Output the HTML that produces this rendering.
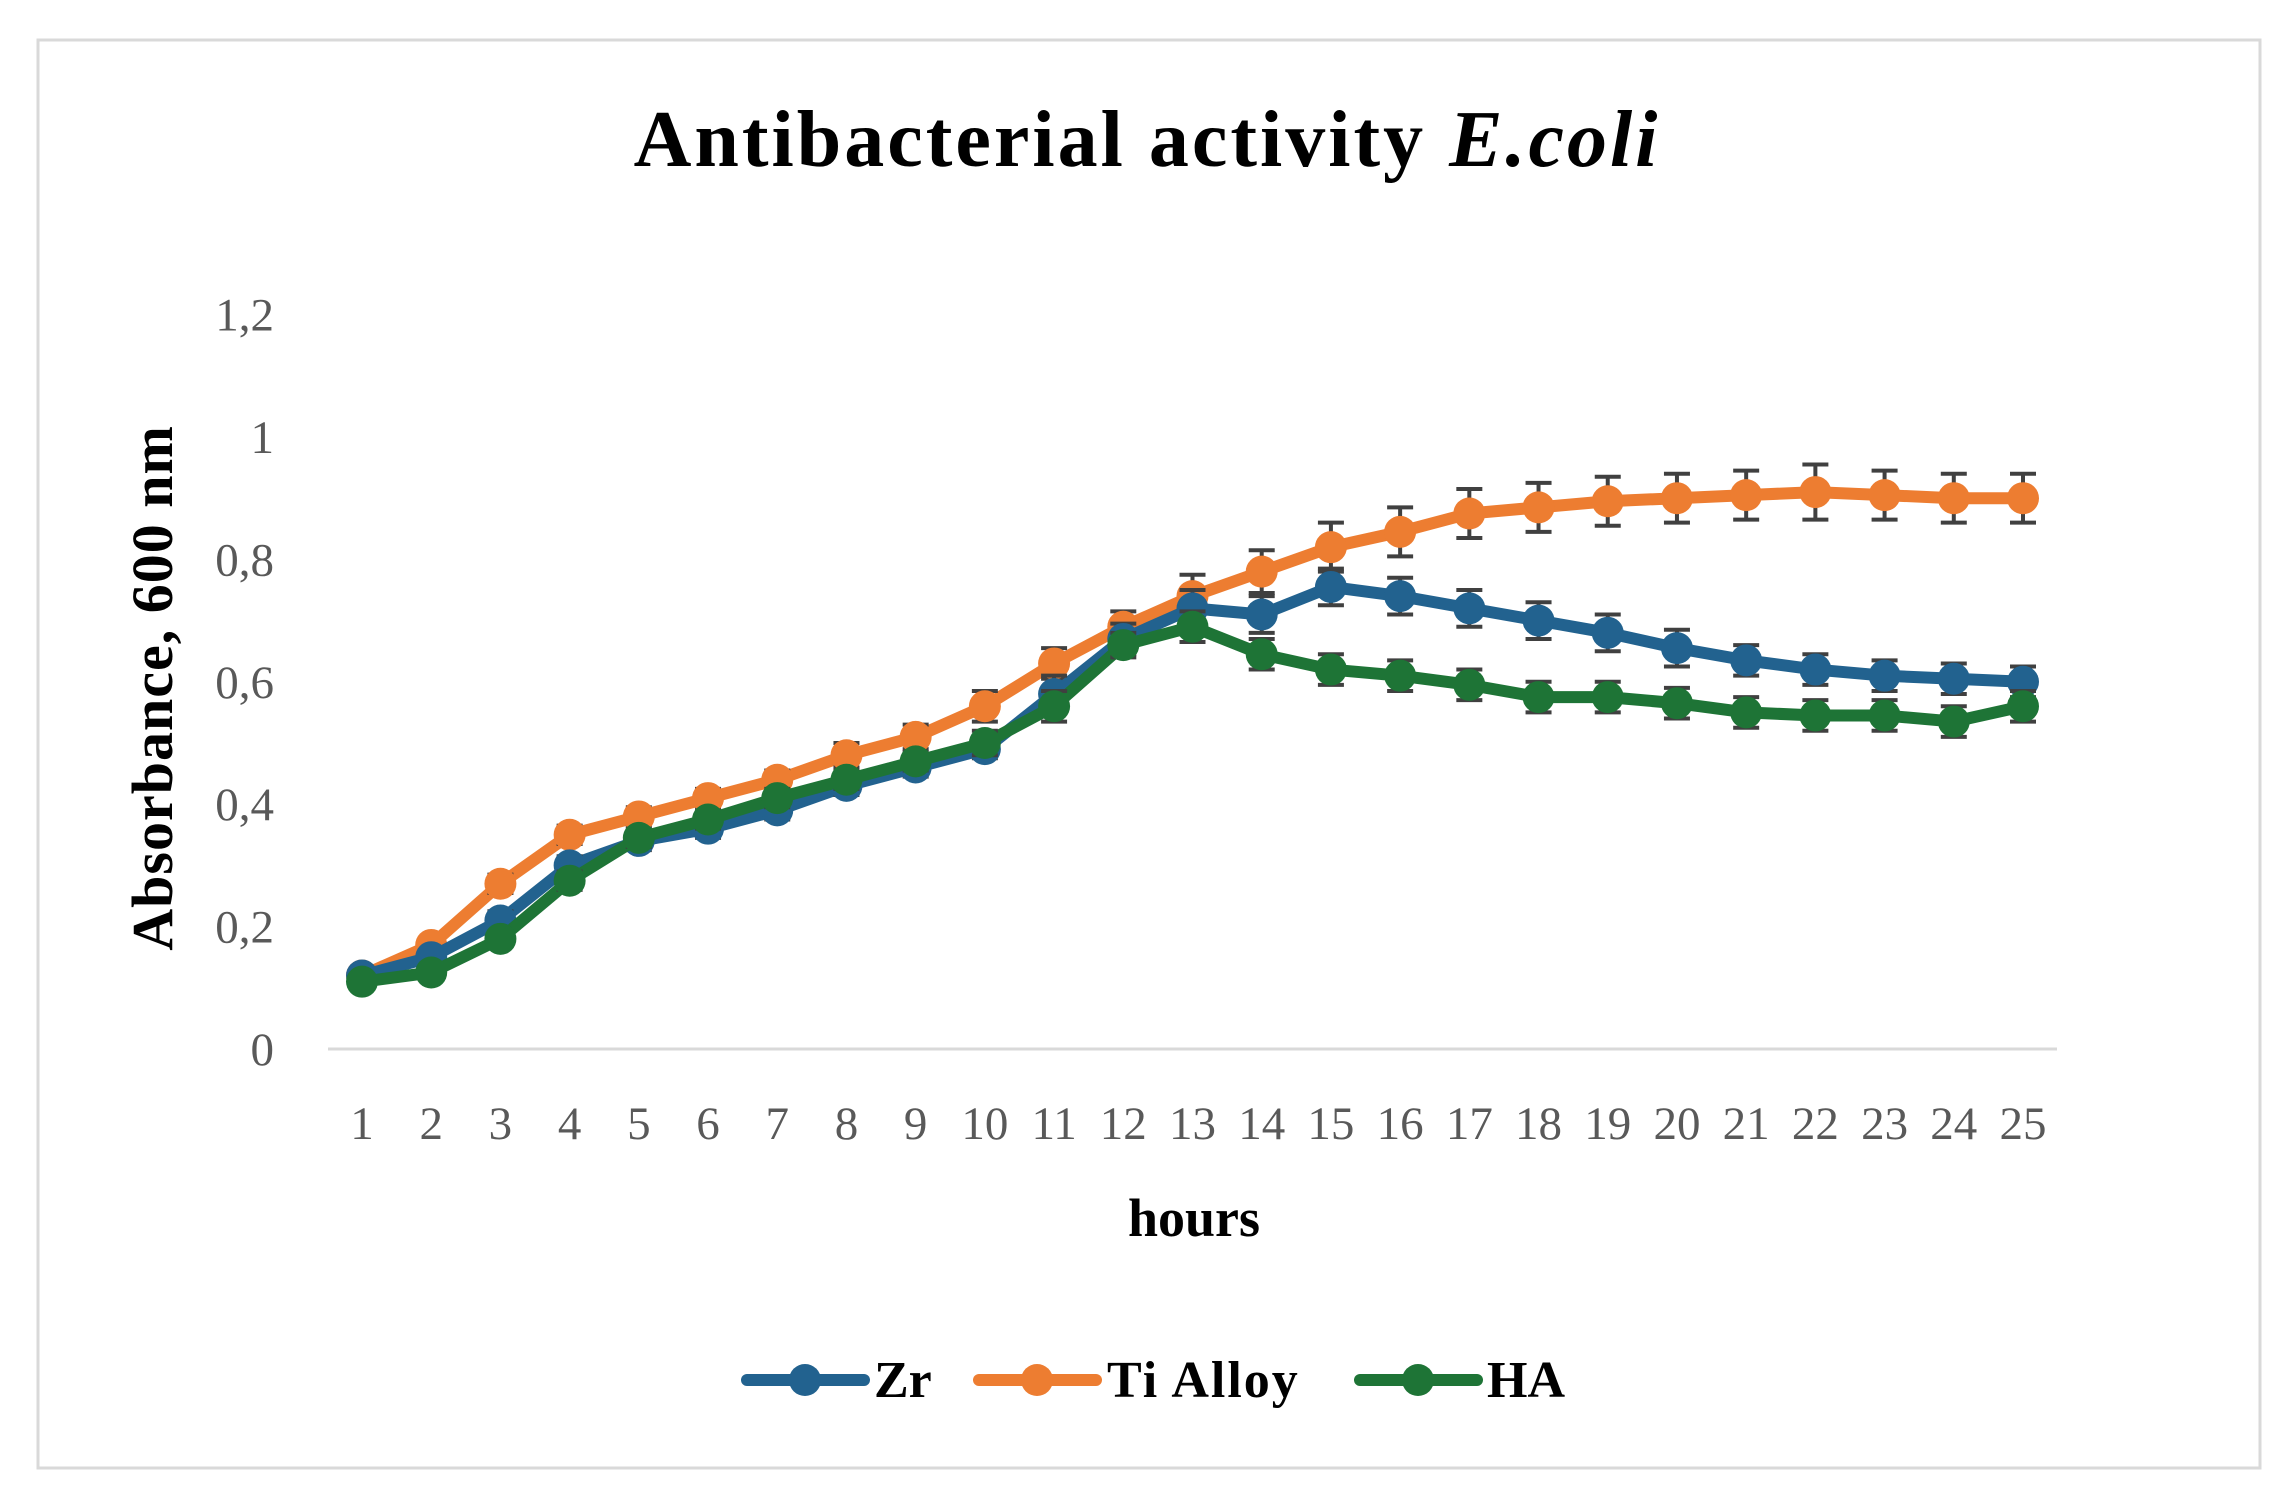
<!DOCTYPE html>
<html><head><meta charset="utf-8">
<style>
html,body{margin:0;padding:0;background:#fff;}
svg{display:block;}
text{font-family:"Liberation Serif",serif;}
</style></head>
<body>
<svg id="chart" width="2290" height="1493" viewBox="0 0 2290 1493">
  <rect x="38" y="40" width="2222" height="1428" fill="#fff" stroke="#d9d9d9" stroke-width="3"/>
  <text x="1147" y="166" text-anchor="middle" font-size="80" font-weight="bold" letter-spacing="3" fill="#000">Antibacterial activity <tspan font-style="italic">E.coli</tspan></text>
  <text transform="translate(172,688) rotate(-90)" text-anchor="middle" font-size="58" font-weight="bold" letter-spacing="1" fill="#000">Absorbance, 600 nm</text>
  <text x="1194" y="1236" text-anchor="middle" font-size="54" font-weight="bold" fill="#000">hours</text>
  <g id="grid"></g>
  <g id="series"></g>
  <g id="legend">
    <g>
      <line x1="747" y1="1380" x2="864" y2="1380" stroke="#22628f" stroke-width="12" stroke-linecap="round"/>
      <circle cx="805" cy="1380" r="16" fill="#22628f"/>
      <text x="874" y="1397" font-size="52" font-weight="bold" fill="#000">Zr</text>
    </g>
    <g>
      <line x1="979" y1="1380" x2="1096" y2="1380" stroke="#ed7d31" stroke-width="12" stroke-linecap="round"/>
      <circle cx="1037" cy="1380" r="16" fill="#ed7d31"/>
      <text x="1107" y="1397" font-size="52" font-weight="bold" letter-spacing="2" fill="#000">Ti Alloy</text>
    </g>
    <g>
      <line x1="1360" y1="1380" x2="1477" y2="1380" stroke="#1e7436" stroke-width="12" stroke-linecap="round"/>
      <circle cx="1418" cy="1380" r="16" fill="#1e7436"/>
      <text x="1487" y="1397" font-size="52" font-weight="bold" fill="#000">HA</text>
    </g>
  </g>
</svg>
<script>
const hours = [1,2,3,4,5,6,7,8,9,10,11,12,13,14,15,16,17,18,19,20,21,22,23,24,25];
const yTicks = [0,0.2,0.4,0.6,0.8,1,1.2];
const yTickLabels = ["0","0,2","0,4","0,6","0,8","1","1,2"];
const zrValues = [0.12,0.15,0.21,0.30,0.34,0.36,0.39,0.43,0.46,0.49,0.58,0.67,0.72,0.71,0.755,0.74,0.72,0.70,0.68,0.655,0.635,0.62,0.61,0.605,0.60];
const zrErrors = [0.01,0.01,0.015,0.015,0.015,0.015,0.015,0.015,0.015,0.015,0.03,0.025,0.03,0.03,0.03,0.03,0.03,0.03,0.03,0.03,0.025,0.025,0.025,0.025,0.025];
const tiValues = [0.12,0.17,0.27,0.35,0.38,0.41,0.44,0.48,0.51,0.56,0.63,0.69,0.74,0.78,0.82,0.845,0.875,0.885,0.895,0.90,0.905,0.91,0.905,0.90,0.90];
const tiErrors = [0.01,0.01,0.015,0.015,0.015,0.015,0.015,0.02,0.02,0.025,0.025,0.025,0.035,0.035,0.04,0.04,0.04,0.04,0.04,0.04,0.04,0.045,0.04,0.04,0.04];
const haValues = [0.11,0.125,0.18,0.275,0.345,0.375,0.41,0.44,0.47,0.50,0.56,0.66,0.69,0.645,0.62,0.61,0.595,0.575,0.575,0.565,0.55,0.545,0.545,0.535,0.56];
const haErrors = [0.01,0.01,0.01,0.015,0.015,0.015,0.015,0.015,0.015,0.02,0.025,0.02,0.025,0.025,0.025,0.025,0.025,0.025,0.025,0.025,0.025,0.025,0.025,0.025,0.025];

const NS = "http://www.w3.org/2000/svg";
const x0 = 362, x1 = 2023, yBase = 1049, yPerUnit = 612;
function xScale(i){ return x0 + (x1 - x0) * i / (hours.length - 1); }
function yScale(v){ return yBase - v * yPerUnit; }
function mk(tag, attrs, parent){
  const e = document.createElementNS(NS, tag);
  for (const k in attrs) e.setAttribute(k, attrs[k]);
  parent.appendChild(e);
  return e;
}
const grid = document.getElementById('grid');
const axis = mk('line', {x1:328, x2:2057, y1:yScale(0), y2:yScale(0), stroke:'#d9d9d9', 'stroke-width':3}, grid);


yTicks.forEach((t, i) => {
  const tx = mk('text', {x:274, y:yScale(t)+16, 'text-anchor':'end', 'font-size':47, fill:'#595959'}, grid);
  tx.textContent = yTickLabels[i];
  
  
});
hours.forEach((h, i) => {
  const tx = mk('text', {x:xScale(i), y:1139, 'text-anchor':'middle', 'font-size':47, fill:'#595959'}, grid);
  tx.textContent = h;
  
  
});
const seriesG = document.getElementById('series');
function drawSeries(vals, errs, color, name){
  const g = mk('g', {}, seriesG);
  
  
  const pts = vals.map((v, i) => xScale(i) + ',' + yScale(v)).join(' ');
  const pl = mk('polyline', {points:pts, fill:'none', stroke:color, 'stroke-width':12, 'stroke-linejoin':'round'}, g);
  
  
  vals.forEach((v, i) => {
    const x = xScale(i), ya = yScale(v + errs[i]), yb = yScale(v - errs[i]);
    const eb = mk('path', {d:`M${x},${ya}V${yb}M${x-13},${ya}H${x+13}M${x-13},${yb}H${x+13}`, stroke:'#404040', 'stroke-width':4, fill:'none'}, g);
    
    
    const c = mk('circle', {cx:x, cy:yScale(v), r:16, fill:color}, g);
    
    
  });
}
drawSeries(tiValues, tiErrors, '#ed7d31', 'ti-alloy');
drawSeries(zrValues, zrErrors, '#22628f', 'zr');
drawSeries(haValues, haErrors, '#1e7436', 'ha');
</script>
</body></html>
